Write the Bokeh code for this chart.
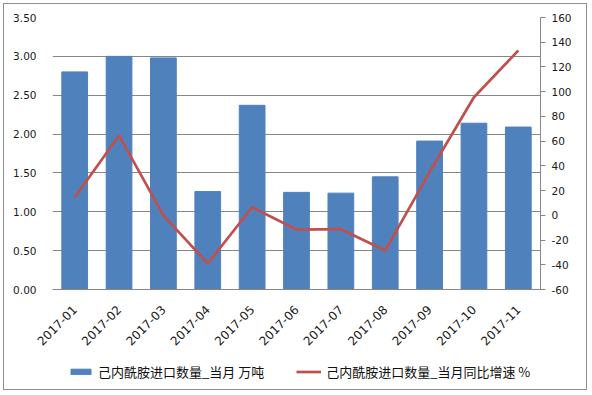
from math import pi
from bokeh.plotting import figure
from bokeh.layouts import column
from bokeh.models import (FactorRange, Range1d, LinearAxis, FixedTicker, Legend,
                          LegendItem, NumeralTickFormatter, PrintfTickFormatter)
from bokeh.embed import file_html
from bokeh.resources import INLINE

months = ["2017-01", "2017-02", "2017-03", "2017-04", "2017-05", "2017-06",
          "2017-07", "2017-08", "2017-09", "2017-10", "2017-11"]
volume = [2.80, 3.00, 2.98, 1.26, 2.37, 1.25, 1.24, 1.45, 1.91, 2.14, 2.09]
yoy = [14.4, 64.6, 0.0, -39.0, 6.5, -11.5, -11.2, -28.5, 35.0, 95.5, 133.3]
left_ticks = [0, 0.5, 1.0, 1.5, 2.0, 2.5, 3.0, 3.5]
right_ticks = [-60, -40, -20, 0, 20, 40, 60, 80, 100, 120, 140, 160]
bar_label = "己内酰胺进口数量_当月 万吨"
line_label = "己内酰胺进口数量_当月同比增速 %"

FONT = "DejaVu Sans"
GRID = "#878787"
BAR = "#4F81BD"
LINE = "#C0504D"
W = 582

p = figure(width=W, height=356, x_range=FactorRange(*months),
           y_range=Range1d(0, 3.5), output_backend="svg", toolbar_location=None,
           min_border_left=48, min_border_right=46, min_border_top=13,
           min_border_bottom=71)
p.outline_line_color = None
p.background_fill_color = "white"
p.border_fill_color = "white"
p.extra_y_ranges = {"pct": Range1d(-60, 160)}

bars = p.vbar(x=months, top=volume, width=0.58, color=BAR)
ln = p.line(x=months, y=yoy, y_range_name="pct", color=LINE, line_width=2.7)

p.xgrid.grid_line_color = None
p.ygrid.grid_line_color = GRID
p.ygrid.ticker = FixedTicker(ticks=left_ticks)

# left axis
la = p.yaxis[0]
la.ticker = FixedTicker(ticks=left_ticks)
la.formatter = NumeralTickFormatter(format="0.00")
la.axis_line_color = None
la.major_tick_line_color = None
la.minor_tick_line_color = None
la.major_label_standoff = 10
la.major_label_text_font = FONT
la.major_label_text_font_size = "10.5px"
la.major_label_text_color = "#1a1a1a"

# right axis
ra = LinearAxis(y_range_name="pct", ticker=FixedTicker(ticks=right_ticks),
                formatter=PrintfTickFormatter(format="%d"))
ra.axis_line_color = GRID
ra.major_tick_line_color = GRID
ra.major_tick_out = 5
ra.major_tick_in = 0
ra.minor_tick_line_color = None
ra.major_label_standoff = 6
ra.major_label_text_font = FONT
ra.major_label_text_font_size = "10.5px"
ra.major_label_text_color = "#1a1a1a"
p.add_layout(ra, "right")

# bottom axis
xa = p.xaxis[0]
xa.axis_line_color = GRID
xa.major_tick_line_color = None
xa.minor_tick_line_color = None
xa.major_label_orientation = pi / 4
xa.major_label_standoff = 12
xa.major_label_text_font = FONT
xa.major_label_text_font_size = "12px"
xa.major_label_text_color = "#1a1a1a"

# legend strip (its frame is aligned with the chart's frame by the column)
lg = figure(width=W, height=29, x_range=Range1d(0, 1), y_range=Range1d(0, 1),
            output_backend="svg", toolbar_location=None,
            x_axis_type=None, y_axis_type=None, min_border=0)
lg.outline_line_color = None
lg.xgrid.grid_line_color = None
lg.ygrid.grid_line_color = None
lg_bar = lg.vbar(x=[-10], top=[-10], width=0.1, color=BAR)
lg_line = lg.line(x=[-10, -9], y=[-10, -10], color=LINE, line_width=2.7)
legend = Legend(items=[LegendItem(label=bar_label, renderers=[lg_bar]),
                       LegendItem(label=line_label, renderers=[lg_line])],
                orientation="horizontal", location=(16, 8),
                glyph_width=25, glyph_height=7, label_height=7,
                label_standoff=5, spacing=32,
                label_text_font="Noto Sans CJK SC", label_text_font_size="13px",
                label_text_color="#111111",
                border_line_color=None, background_fill_alpha=0, padding=0,
                margin=0)
lg.add_layout(legend)

layout = column(p, lg, spacing=0,
                styles={"border": "1px solid #8e8e8e", "margin-left": "3px",
                        "margin-top": "3px", "box-sizing": "content-box"})

open("out.html", "w").write(file_html(layout, INLINE))
